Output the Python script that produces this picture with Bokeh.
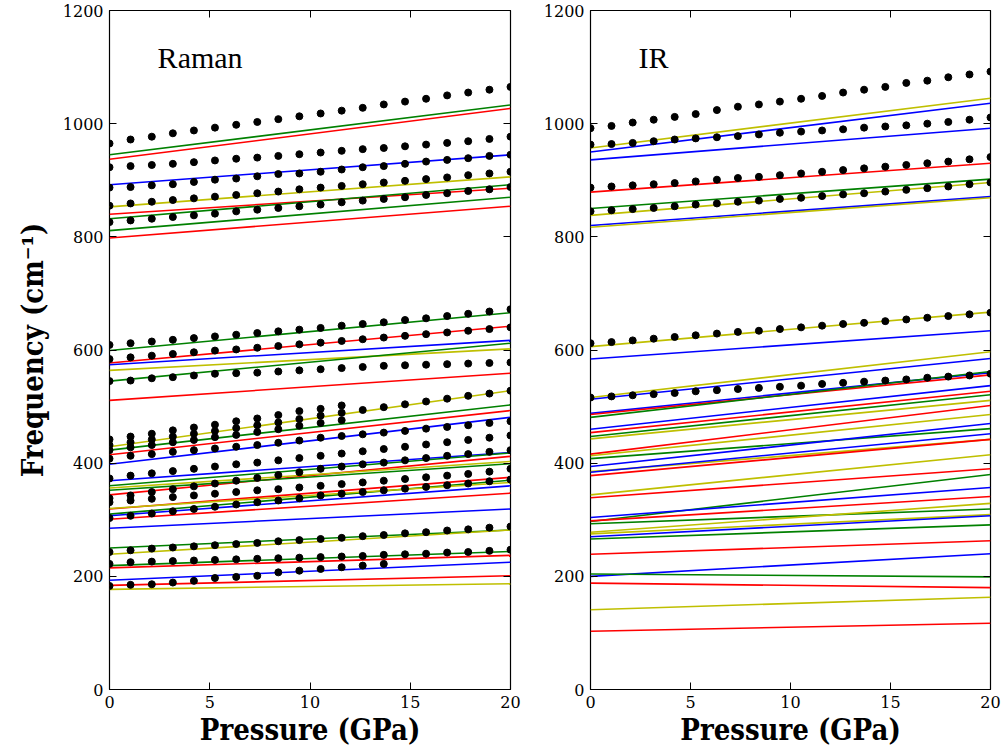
from bokeh.plotting import figure
from bokeh.layouts import row
from bokeh.models import (LinearAxis, FixedTicker, Range1d, ColumnDataSource,
                          Label, CustomJSTickFormatter)
from bokeh.embed import file_html
from bokeh.resources import INLINE

# ---------------- data ----------------
# calculated mode frequencies: straight lines between 0 and 20 GPa
P_ENDS = [0, 20]

raman_colors = ["g", "r", "b", "y", "r", "g", "g", "r",
                "g", "r", "b", "y", "g", "r",
                "y", "g", "r", "b", "b", "g", "r", "y", "g", "r", "g", "y", "b", "r", "b",
                "g", "y", "g", "r", "b", "r", "y"]
raman_f0 = [945, 937, 892, 853, 840, 832, 811, 798,
            599, 577, 574, 564, 545, 511,
            429, 423, 415, 398, 369, 360, 344, 356, 352, 319, 310, 320, 307, 301, 285,
            250, 239, 219, 215, 193, 184, 177]
raman_f20 = [1033, 1027, 945, 906, 886, 892, 870, 854,
             666, 642, 617, 602, 612, 559,
             528, 503, 493, 481, 419, 418, 412, 403, 399, 375, 370, 366, 360, 347, 319,
             282, 282, 244, 237, 225, 201, 187]

ir_colors = ["y", "b", "b", "r", "g", "y", "b", "y",
             "y", "b", "y", "b", "b", "r", "g", "b", "r", "g", "y",
             "r", "g", "y", "b", "y", "b", "r", "y", "r",
             "g", "b", "r", "g", "y", "y", "b", "g", "r",
             "b", "g", "r", "y", "r"]
ir_f0 = [957, 950, 936, 879, 850, 838, 820, 817,
         606, 584, 516, 513, 488, 486, 481, 460, 454, 447, 443,
         416, 408, 413, 394, 385, 384, 378, 344, 339,
         297, 304, 298, 293, 278, 275, 270, 266, 239,
         200, 204, 188, 141, 103]
ir_f20 = [1045, 1036, 992, 930, 902, 896, 871, 869,
          667, 634, 597, 585, 560, 556, 562, 537, 527, 521, 511,
          502, 461, 486, 470, 442, 452, 442, 415, 390,
          380, 357, 341, 319, 329, 309, 307, 291, 263,
          240, 199, 180, 163, 117]

# measured frequencies (dots), sampled at these pressures
P_DOTS = [0.0, 1.05, 2.11, 3.16, 4.21, 5.26, 6.32, 7.37, 8.42, 9.47,
          10.53, 11.58, 12.63, 13.68, 14.74, 15.79, 16.84, 17.89, 18.95, 20.0]

raman_dots = [
    [965, 972, 977, 983, 988, 993, 998, 1003, 1008, 1013, 1018, 1023, 1028, 1034, 1039, 1044, 1050, 1055, 1060, 1065],
    [923, 925, 927, 929, 932, 935, 938, 940, 943, 946, 949, 952, 955, 957, 960, 963, 966, 969, 973, 977],
    [887, 888, 891, 893, 897, 901, 903, 907, 911, 912, 915, 919, 923, 925, 929, 933, 936, 939, 943, 945],
    [855, 859, 862, 865, 868, 871, 874, 877, 880, 884, 887, 890, 893, 896, 899, 902, 905, 909, 912, 915],
    [826, 829, 832, 835, 838, 841, 845, 848, 851, 854, 857, 861, 864, 867, 870, 874, 877, 881, 884, 888],
    [609, 612, 615, 618, 621, 624, 627, 630, 633, 636, 639, 643, 646, 649, 653, 656, 660, 664, 668, 672],
    [584, 587, 590, 593, 596, 599, 601, 604, 607, 610, 613, 616, 619, 622, 625, 628, 631, 634, 637, 640],
    [545, 546, 550, 552, 555, 558, 559, 560, 562, 564, 566, 568, 570, 572, 573, 574, 575, 576, 577, 578],
    [442, 447, 452, 458, 463, 468, 474, 479, 485, 492, 496, 502],
    [432, 437, 442, 447, 452, 457, 462, 467, 472, 478, 484, 489, 494, 499, 504, 509, 514, 519, 523, 528],
    [423, 428, 432, 437, 441, 446, 450, 455, 460, 466, 471, 476],
    [408, 413, 416, 420, 423, 426, 429, 432, 436, 440, 445, 448, 451, 454, 457, 461, 464, 467, 471, 474],
    [373, 378, 382, 386, 390, 394, 398, 401, 405, 409, 413, 417, 421, 425, 429, 433, 437, 441, 445, 449],
    [338, 343, 349, 354, 359, 364, 369, 374, 379, 384, 390, 394, 398, 401, 405, 409, 413, 416, 420, 423],
    [331, 334, 337, 340, 343, 346, 349, 352, 354, 357, 360, 363, 366, 369, 372, 375, 378, 381, 385, 390],
    [303, 307, 311, 315, 319, 323, 327, 331, 334, 338, 343, 346, 349, 352, 355, 358, 361, 364, 368, 371],
    [243, 246, 249, 251, 253, 255, 257, 259, 262, 264, 266, 268, 271, 273, 276, 278, 281, 283, 286, 288],
    [222, 225, 226, 227, 228, 229, 230, 231, 232, 233, 234, 235, 236, 238, 239, 240, 242, 243, 245, 247],
    [183, 185, 186, 189, 192, 197, 199, 201, 207, 210, 213, 216, 219, 222],
]

ir_dots = [
    [992, 996, 1002, 1007, 1012, 1017, 1024, 1030, 1034, 1039, 1044, 1049, 1055, 1060, 1065, 1072, 1076, 1082, 1087, 1092],
    [963, 964, 966, 969, 972, 974, 976, 978, 981, 984, 986, 988, 990, 993, 995, 997, 1000, 1003, 1007, 1011],
    [887, 889, 891, 893, 895, 898, 901, 904, 906, 909, 912, 915, 918, 921, 924, 927, 930, 933, 937, 941],
    [845, 847, 849, 851, 854, 857, 859, 862, 864, 867, 869, 872, 875, 877, 880, 883, 886, 889, 893, 896],
    [612, 614, 617, 620, 623, 626, 629, 632, 634, 637, 640, 643, 646, 648, 651, 654, 657, 660, 663, 666],
    [516, 518, 520, 522, 524, 527, 529, 531, 533, 535, 537, 540, 542, 544, 546, 548, 551, 553, 555, 558],
]

X_TICKS = [0, 5, 10, 15, 20]
Y_TICKS = [0, 200, 400, 600, 800, 1000, 1200]

# matplotlib-style single-letter colours
PALETTE = {"r": "#ff0000", "g": "#008000", "b": "#0000ff", "y": "#bfbf00"}

TICK_FONT = "DejaVu Serif"
LABEL_FONT = "DejaVu Serif Condensed"


def style_axis(ax, ticks, show_labels):
    ax.ticker = FixedTicker(ticks=ticks)
    ax.major_tick_in = 7
    ax.major_tick_out = 0
    ax.minor_tick_in = 0
    ax.minor_tick_out = 0
    ax.axis_line_color = None
    ax.major_tick_line_color = "black"
    ax.major_tick_line_width = 1
    if show_labels:
        ax.major_label_text_font = TICK_FONT
        ax.major_label_text_font_size = "16px"
        ax.major_label_text_color = "black"
        ax.major_label_standoff = 6
    else:
        ax.formatter = CustomJSTickFormatter(code="return ''")
        ax.major_label_standoff = 0
        ax.major_label_text_font_size = "1px"


def label_style(ax, text, standoff):
    ax.axis_label = text
    ax.axis_label_text_font = LABEL_FONT
    ax.axis_label_text_font_style = "bold"
    ax.axis_label_text_font_size = "29px"
    ax.axis_label_text_color = "black"
    ax.axis_label_standoff = standoff


def panel(name, colors, f0, f20, dots, width, border_left, border_right, ylabel):
    p = figure(width=width, height=755,
               x_range=Range1d(0, 20), y_range=Range1d(0, 1200),
               output_backend="svg", toolbar_location=None,
               min_border_left=border_left, min_border_right=border_right,
               min_border_top=10, min_border_bottom=66)
    p.grid.visible = False
    p.outline_line_color = "black"
    p.outline_line_width = 1.2
    p.background_fill_color = "white"
    p.border_fill_color = "white"

    # calculated modes
    src = ColumnDataSource(dict(
        xs=[P_ENDS for _ in f0],
        ys=[[a, b] for a, b in zip(f0, f20)],
        color=[PALETTE[c] for c in colors],
    ))
    p.multi_line(xs="xs", ys="ys", line_color="color", line_width=1.6, source=src)

    # measured modes
    px, py = [], []
    for r in dots:
        px.extend(P_DOTS[:len(r)])
        py.extend(r)
    p.scatter(px, py, size=7, color="black", marker="circle")

    style_axis(p.xaxis[0], X_TICKS, True)
    style_axis(p.yaxis[0], Y_TICKS, True)
    label_style(p.xaxis[0], "Pressure (GPa)", 2)
    if ylabel:
        label_style(p.yaxis[0], ylabel, 10)

    top = LinearAxis()
    style_axis(top, X_TICKS, False)
    p.add_layout(top, "above")
    right = LinearAxis()
    style_axis(right, Y_TICKS, False)
    p.add_layout(right, "right")

    p.add_layout(Label(x=2.4, y=1117, text=name, text_font="Liberation Serif",
                       text_font_size="30px", text_baseline="middle",
                       text_color="black"))
    return p


left = panel("Raman", raman_colors, raman_f0, raman_f20, raman_dots,
             width=530, border_left=109, border_right=20,
             ylabel="Frequency (cm\u207b\u00b9)")
right = panel("IR", ir_colors, ir_f0, ir_f20, ir_dots,
              width=475, border_left=60, border_right=15, ylabel=None)

layout = row(left, right)
open("out.html", "w").write(file_html(layout, INLINE))
